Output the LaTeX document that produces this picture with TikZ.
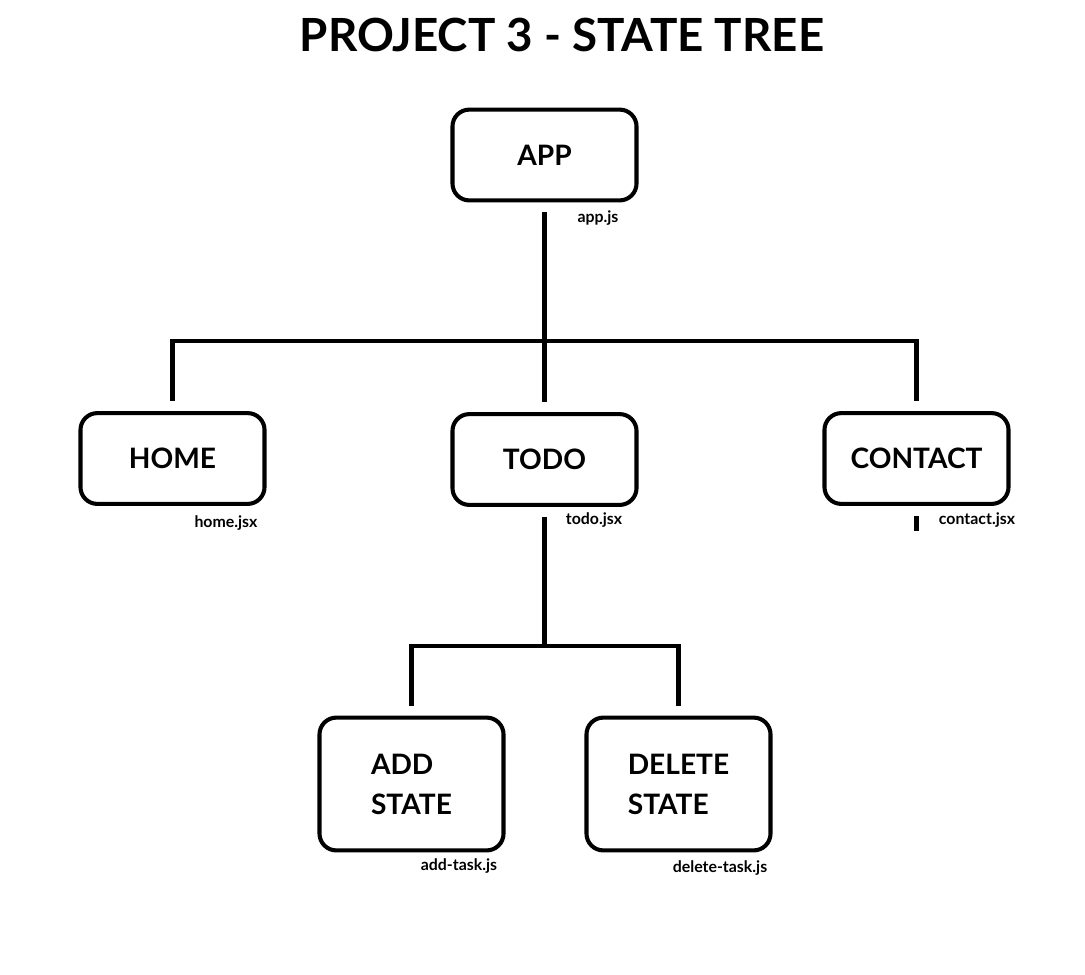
\documentclass[tikz,border=0pt]{standalone}
\usepackage{fontspec}
\setmainfont{Lato}
\usetikzlibrary{positioning}

\newcommand{\wiregap}{7pt}

\tikzset{
  heading/.style={font=\bfseries\fontsize{32.5}{36}\selectfont},
  comp/.style={draw, line width=2.9pt, rounded corners=12pt, fill=white,
    minimum width=4.6cm, minimum height=2.27cm, align=left,
    font=\bfseries\fontsize{20}{28.5}\selectfont},
  tall/.style={minimum height=3.32cm},
  file/.style={font=\bfseries\fontsize{11.3}{13}\selectfont, inner sep=1pt},
  link/.style={line width=2.9pt}
}

\begin{document}
\begin{tikzpicture}[x=0.025cm, y=-0.025cm]
  \useasboundingbox[fill=white] (0,0) rectangle (1085,974);

  % title
  \node[heading] (head) at (562,35) {PROJECT 3 - STATE TREE};

  % components
  \node[comp] (app) at (544.5,155) {APP};
  \node[comp] (home) at (172.5,458.5) {HOME};
  \node[comp] (todo) at (544.5,459.5) {TODO};
  \node[comp] (contact) at (916.5,458.5) {CONTACT};
  \node[comp, tall] (add) at (411.5,784) {ADD\\STATE};
  \node[comp, tall] (del) at (678.5,784) {DELETE\\STATE};

  % file names
  \node[file] (appjs) at (598,218) {app.js};
  \node[file] (homejs) at (226,523) {home.jsx};
  \node[file] (todojs) at (594,520) {todo.jsx};
  \node[file] (contactjs) at (977,520) {contact.jsx};
  \node[file] (addjs) at (459,866) {add-task.js};
  \node[file] (deljs) at (720,868) {delete-task.js};

  % junctions
  \coordinate (busA) at (544.5,341);
  \coordinate (busB) at (544.5,646);
  \coordinate (stub) at (916.5,531);

  % wires
  \draw[link, shorten <=\wiregap] (app) -- (busA);
  \draw[link, shorten >=\wiregap] (busA) -- (todo);
  \draw[link, shorten >=\wiregap] (busA) -| (home.north);
  \draw[link, shorten >=\wiregap] (busA) -| (contact.north);
  \draw[link, shorten <=\wiregap] (contact) -- (stub);

  \draw[link, shorten <=\wiregap] (todo) -- (busB);
  \draw[link, shorten >=\wiregap] (busB) -| (add.north);
  \draw[link, shorten >=\wiregap] (busB) -| (del.north);
\end{tikzpicture}
\end{document}
